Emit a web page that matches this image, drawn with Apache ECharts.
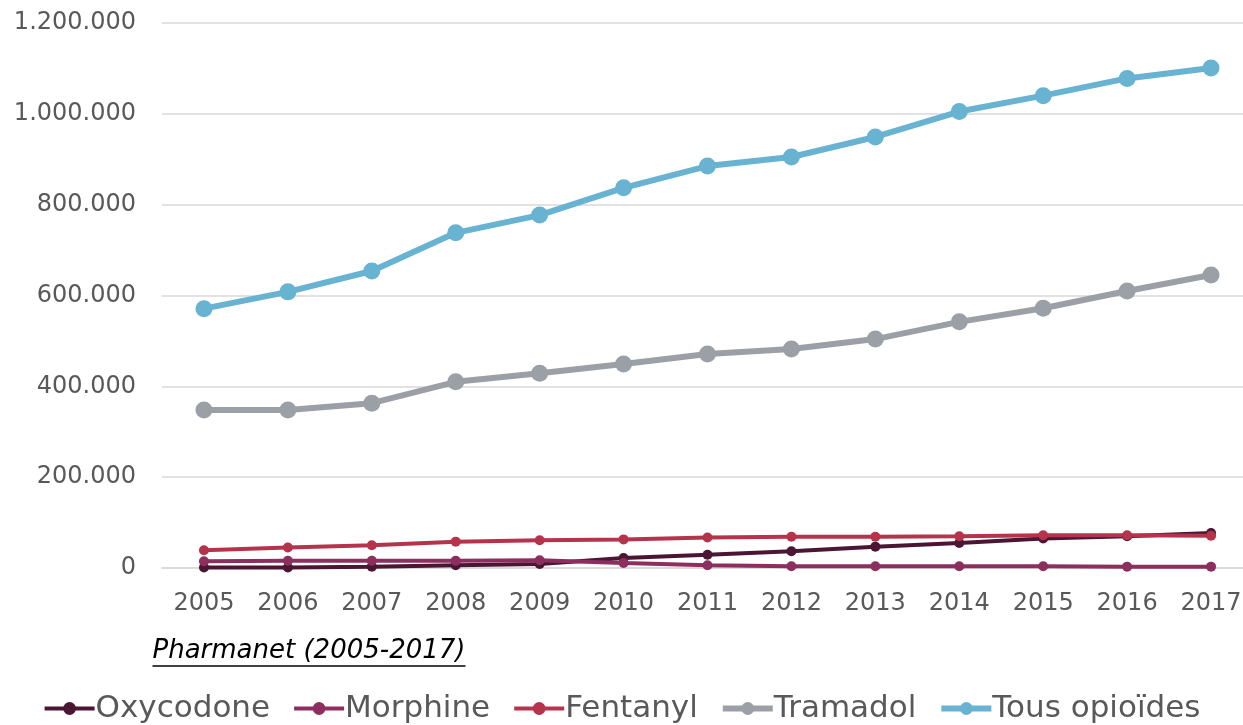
<!DOCTYPE html>
<html>
<head>
<meta charset="utf-8">
<script src="https://cdn.jsdelivr.net/npm/echarts@6/dist/echarts.min.js"></script>
<style>
html, body { margin: 0; padding: 0; background: #fff; }
#chart { width: 1243px; height: 725px; }
</style>
</head>
<body>
<div id="chart"></div>
<script>
var years = ['2005', '2006', '2007', '2008', '2009', '2010', '2011', '2012', '2013', '2014', '2015', '2016', '2017'];
var oxycodone = [1000, 1000, 3000, 6000, 9000, 22000, 29000, 37000, 47000, 55000, 65000, 70000, 77000];
var morphine = [15000, 16000, 16000, 16000, 17000, 11000, 6000, 4000, 4000, 4000, 4000, 3000, 3000];
var fentanyl = [39000, 45000, 50000, 58000, 61000, 63000, 67000, 69000, 69000, 70000, 72000, 72000, 71000];
var tramadol = [348000, 348000, 363000, 410000, 429000, 449000, 471000, 482000, 504000, 542000, 572000, 610000, 645000];
var tous = [571000, 608000, 654000, 738000, 777000, 837000, 885000, 905000, 949000, 1005000, 1040000, 1078000, 1101000];

var font = '"DejaVu Sans", sans-serif';

function fmt(v) {
    return String(v).replace(/\B(?=(\d{3})+(?!\d))/g, '.');
}

var colors = {
    'Oxycodone': '#4a1634',
    'Morphine': '#8c2f5f',
    'Fentanyl': '#b5344c',
    'Tramadol': '#9ba0a7',
    'Tous opioïdes': '#67b3d1'
};

function line(name, data, width, size) {
    return {
        name: name,
        type: 'line',
        data: data,
        symbol: 'circle',
        symbolSize: size,
        lineStyle: { color: colors[name], width: width },
        itemStyle: { color: colors[name] },
        emphasis: { disabled: true }
    };
}

function legendItem(name, width) {
    return { name: name, lineStyle: { width: width, color: colors[name] }, itemStyle: { color: colors[name] } };
}

var myChart = echarts.init(document.getElementById('chart'));
var option = {
    animation: false,
    grid: { left: 162, top: 23, width: 1091, height: 545, outerBoundsMode: 'none' },
    xAxis: {
        type: 'category',
        data: years,
        boundaryGap: true,
        axisLine: { lineStyle: { color: '#d9d9d9', width: 1.5 } },
        axisTick: { show: false },
        axisLabel: { color: '#595959', fontSize: 24, fontFamily: font, margin: 24 }
    },
    yAxis: {
        type: 'value',
        min: 0,
        max: 1200000,
        interval: 200000,
        axisLine: { show: false },
        axisTick: { show: false },
        splitLine: { lineStyle: { color: '#d9d9d9', width: 1.5 } },
        axisLabel: { color: '#595959', fontSize: 24, fontFamily: font, margin: 26, formatter: fmt }
    },
    legend: {
        bottom: -4,
        left: 'center',
        itemWidth: 50,
        itemHeight: 16,
        itemGap: 22,
        textStyle: { color: '#595959', fontSize: 31, fontFamily: font, padding: [0, 0, 0, -4] },
        data: [
            legendItem('Oxycodone', 4),
            legendItem('Morphine', 4),
            legendItem('Fentanyl', 4),
            legendItem('Tramadol', 6),
            legendItem('Tous opioïdes', 6)
        ]
    },
    graphic: [{
        type: 'group',
        left: 150,
        top: 638,
        children: [{
            type: 'text',
            style: { text: 'Pharmanet (2005-2017)', fill: '#000', fontSize: 26, fontStyle: 'italic', fontFamily: font }
        }, {
            type: 'line',
            shape: { x1: 0, y1: 28, x2: 313, y2: 28 },
            style: { stroke: '#000', lineWidth: 1.5 }
        }]
    }],
    series: [
        line('Oxycodone', oxycodone, 4, 10),
        line('Morphine', morphine, 4, 10),
        line('Fentanyl', fentanyl, 4, 10),
        line('Tramadol', tramadol, 6, 17),
        line('Tous opioïdes', tous, 6, 17)
    ]
};
myChart.setOption(option);
</script>
</body>
</html>
